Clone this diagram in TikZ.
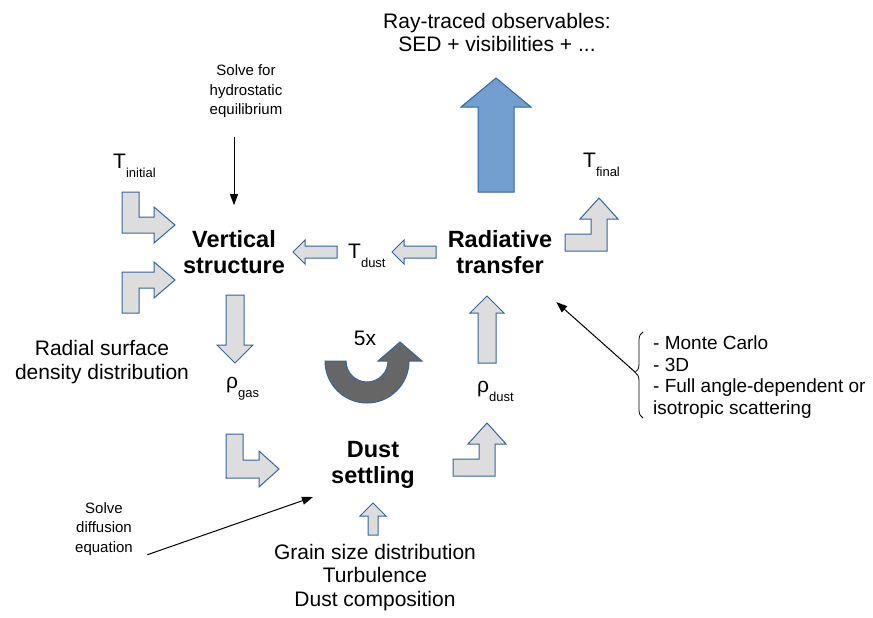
\documentclass[tikz,border=0pt]{standalone}
\usepackage{fontspec}
\setmainfont{Liberation Sans}
\usetikzlibrary{arrows.meta}
\usetikzlibrary{decorations.pathreplacing}

\definecolor{boxgrey}{HTML}{DDDDDD}
\definecolor{edgeblue}{HTML}{3465A4}
\definecolor{fluxblue}{HTML}{729FCF}
\definecolor{loopgrey}{HTML}{666666}

\newcommand{\dgtitle}{\fontsize{23.5}{26}\selectfont\bfseries}
\newcommand{\dgtext}{\fontsize{21}{23.5}\selectfont}
\newcommand{\dgnote}{\fontsize{15}{19.5}\selectfont}
\newcommand{\dglist}{\fontsize{19}{21.7}\selectfont}
\newcommand{\dgsub}[1]{\raisebox{-9pt}{\fontsize{13}{13}\selectfont #1}}

\begin{document}
\begin{tikzpicture}[x=1pt,y=-1pt,
		block/.style={draw=edgeblue,fill=boxgrey,line width=1pt},
		stage/.style={font=\dgtitle,align=center,inner sep=3pt},
		plain/.style={font=\dgtext,align=center,inner sep=3pt},
		remark/.style={font=\dgnote,align=center,inner sep=3pt},
		sym/.style={font=\dgtext,inner sep=0pt,anchor=base west},
		thinarrow/.style={-{Triangle[length=11pt,width=8pt]},line width=1pt}]
				\fill[white] (0,0) rectangle (873,618);
				\useasboundingbox (0,0) rectangle (873,618);

				%Nodes
				\node[stage]  (vertical)    at (234,252)   {Vertical\\structure};
				\node[stage]  (radiative)   at (500,252)   {Radiative\\transfer};
				\node[stage]  (dust)        at (373,465)   {Dust\\settling};
				\node[plain]  (observables) at (497,32.5)  {Ray-traced observables:\\SED + visibilities + ...};
				\node[plain]  (radial)      at (102,362)   {Radial surface\\density distribution};
				\node[plain]  (grain)       at (375,577.5) {Grain size distribution\\Turbulence\\Dust composition};
				\node[remark] (hydro)       at (246,91.5)  {Solve for\\hydrostatic\\equilibrium};
				\node[remark] (diffusion)   at (104,529)   {Solve\\diffusion\\equation};
				\node[font=\dglist,align=left,anchor=west,inner sep=3pt] (scatter) at (650,377)
					{- Monte Carlo\\- 3D\\- Full angle-dependent or\\isotropic scattering};
				\node[plain,inner sep=0pt] (cycles) at (365,338) {5x};
				\node[sym]    (tinit)       at (113,168)   {T\dgsub{initial}};
				\node[sym]    (tfinal)      at (583,167)   {T\dgsub{final}};
				\node[sym]    (tdust)       at (348,258)   {T\dgsub{dust}};
				\node[sym]    (rhogas)      at (226,388)   {ρ\dgsub{gas}};
				\node[sym]    (rhodust)     at (477,392)   {ρ\dgsub{dust}};
				\coordinate   (bracetip)    at (635,372);

				%Block arrows
				\draw[block] (122,192) -- (139,192) -- (139,217) -- (154,217) -- (154,207) -- (175,225) -- (154,243) -- (154,233) -- (122,233) -- cycle;
				\draw[block] (122,313) -- (122,272) -- (154,272) -- (154,262) -- (175,280) -- (154,298) -- (154,288) -- (139,288) -- (139,313) -- cycle;
				\draw[block] (293,252) -- (305,240) -- (305,246) -- (337,246) -- (337,258) -- (305,258) -- (305,264) -- cycle;
				\draw[block] (392,252) -- (404,240) -- (404,246) -- (436,246) -- (436,258) -- (404,258) -- (404,264) -- cycle;
				\draw[block] (226,295) -- (244,295) -- (244,345) -- (253,345) -- (235,363) -- (217,345) -- (226,345) -- cycle;
				\draw[block] (226,434) -- (243,434) -- (243,460) -- (259,460) -- (259,451) -- (279,469) -- (259,487) -- (259,478) -- (226,478) -- cycle;
				\draw[block] (453,459) -- (479,459) -- (479,444) -- (468,444) -- (487,423) -- (506,444) -- (495,444) -- (495,476) -- (453,476) -- cycle;
				\draw[block] (478,363) -- (478,313) -- (470,313) -- (487,296) -- (504,313) -- (496,313) -- (496,363) -- cycle;
				\draw[block] (565,234) -- (591,234) -- (591,219) -- (580,219) -- (599,198) -- (618,219) -- (607,219) -- (607,251) -- (565,251) -- cycle;
				\draw[block] (368,535) -- (368,516) -- (360,516) -- (373,503) -- (386,516) -- (378,516) -- (378,535) -- cycle;
				\draw[block,fill=fluxblue] (496,78) -- (531,107) -- (514,107) -- (514,192) -- (478,192) -- (478,107) -- (461,107) -- cycle;
				\draw[block,fill=loopgrey] (325,361) arc[start angle=180,end angle=360,radius=42pt] -- (422,361) -- (400,342) -- (378,361) -- (388,361)
					arc[start angle=360,end angle=180,radius=21pt] -- cycle;

				%Lines
				\draw[thinarrow,shorten <=16pt,shorten >=22pt] (hydro.south -| vertical) -- (vertical.north);
				\draw[thinarrow,shorten <=12pt,shorten >=16pt] (diffusion.south east) -- (dust.south west);
				\draw[decorate,decoration={brace,amplitude=8pt,aspect=0.53},line width=0.8pt] (643,418) -- (643,332);
				\draw[thinarrow,shorten >=38pt] (bracetip) -- (radiative);

		\end{tikzpicture}
\end{document}
